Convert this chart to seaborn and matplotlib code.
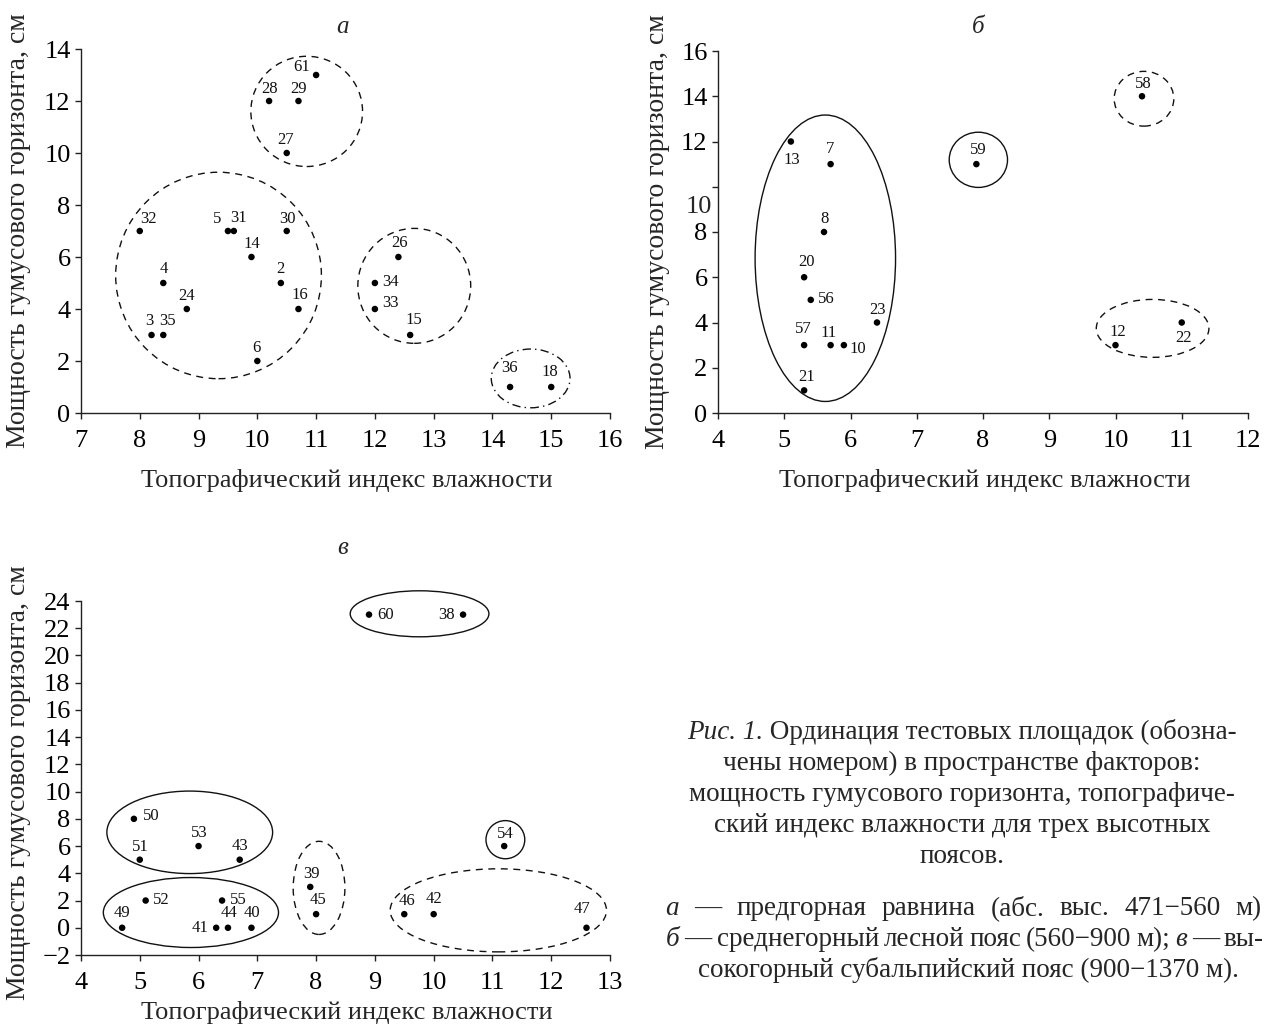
import matplotlib
matplotlib.use("Agg")
import matplotlib.pyplot as plt
import matplotlib.transforms as mtransforms
from matplotlib.patches import Ellipse
import seaborn as sns
import pandas as pd

# ---------------- data ----------------
# Panel a: предгорная равнина
a_ids = ["61", "28", "29", "27", "32", "5", "31", "30", "14", "4", "2", "24", "16",
         "3", "35", "6", "26", "34", "33", "15", "36", "18"]
a_twi = [11.0, 10.2, 10.7, 10.5, 8.0, 9.5, 9.6, 10.5, 9.9, 8.4, 10.4, 8.8, 10.7,
         8.2, 8.4, 10.0, 12.4, 12.0, 12.0, 12.6, 14.3, 15.0]
a_hum = [13, 12, 12, 10, 7, 7, 7, 7, 6, 5, 5, 4, 4, 3, 3, 2, 6, 5, 4, 3, 1, 1]

# Panel b: среднегорный лесной пояс
b_ids = ["13", "7", "8", "20", "56", "23", "57", "11", "10", "21", "59", "58", "12", "22"]
b_twi = [5.1, 5.7, 5.6, 5.3, 5.4, 6.4, 5.3, 5.7, 5.9, 5.3, 7.9, 10.4, 10.0, 11.0]
b_hum = [12, 11, 8, 6, 5, 4, 3, 3, 3, 1, 11, 14, 3, 4]

# Panel c: высокогорный субальпийский пояс
c_ids = ["60", "38", "50", "53", "51", "43", "52", "55", "49", "41", "44", "40",
         "39", "45", "54", "46", "42", "47"]
c_twi = [8.9, 10.5, 4.9, 6.0, 5.0, 6.7, 5.1, 6.4, 4.7, 6.3, 6.5, 6.9,
         7.9, 8.0, 11.2, 9.5, 10.0, 12.6]
c_hum = [23, 23, 8, 6, 5, 5, 2, 2, 0, 0, 0, 0, 3, 1, 6, 1, 1, 0]

# cluster outlines: (center x, center y, half-width, half-height, style)
a_groups = [(10.84, 11.6, 0.95, 2.12, "dashed"), (9.34, 5.29, 1.75, 3.97, "dashed"),
            (12.67, 4.89, 0.96, 2.21, "dashed"), (14.65, 1.33, 0.67, 1.13, "dashdot")]
b_groups = [(5.62, 6.84, 1.06, 6.33, "solid"), (7.93, 11.19, 0.44, 1.22, "solid"),
            (10.43, 13.89, 0.45, 1.21, "dashed"), (10.56, 3.74, 0.85, 1.28, "dashed")]
c_groups = [(9.76, 23.06, 1.18, 1.69, "solid"), (5.85, 7.01, 1.41, 3.03, "solid"),
            (5.87, 1.12, 1.49, 2.57, "solid"), (8.05, 2.93, 0.44, 3.42, "dashed"),
            (11.22, 6.47, 0.33, 1.40, "solid"), (11.1, 1.28, 1.84, 3.05, "dashed")]

x_label = "Топографический индекс влажности"
y_label = "Мощность гумусового горизонта, см"

# label offsets in pixels (dx, dy) of label centre from point
a_off = {"61": (-14, 8), "28": (0, 12), "29": (0, 12), "27": (-1, 13), "32": (9, 12),
         "5": (-11, 12), "31": (5, 13), "30": (1, 12), "14": (0, 13), "4": (1, 14),
         "2": (0, 14), "24": (0, 13), "16": (1, 14), "3": (-2, 14), "35": (4, 14),
         "6": (-1, 13), "26": (1, 14), "34": (16, 1), "33": (16, 6), "15": (4, 15),
         "36": (-1, 19), "18": (-1, 15)}
b_off = {"13": (1, -19), "7": (-1, 15), "8": (1, 13), "20": (2, 15), "56": (16, 1),
         "23": (0, 12), "57": (-1, 16), "11": (-2, 12), "10": (14, -4), "21": (2, 13),
         "59": (2, 14), "58": (1, 12), "12": (2, 13), "22": (2, -16)}
c_off = {"60": (17, 0), "38": (-17, 0), "50": (17, 3), "53": (1, 13), "51": (1, 13),
         "43": (0, 14), "52": (16, 1), "55": (16, 1), "49": (0, 15), "41": (-16, 0),
         "44": (1, 15), "40": (0, 15), "39": (1, 13), "45": (2, 14), "54": (1, 12),
         "46": (3, 13), "42": (0, 15), "47": (-4, 19)}

# ---------------- style ----------------
sns.set_theme(style="ticks")
SERIF = ["Liberation Serif", "DejaVu Serif"]
plt.rcParams["font.family"] = SERIF
plt.rcParams["axes.linewidth"] = 1.0
plt.rcParams["xtick.major.width"] = 1.0
plt.rcParams["ytick.major.width"] = 1.0
plt.rcParams["xtick.major.size"] = 4.5
plt.rcParams["ytick.major.size"] = 4.5

W, H = 1267, 1029
fig = plt.figure(figsize=(W / 100, H / 100), dpi=100)

TICK_FS = 19
XLAB_FS = 19
YLAB_FS = 20
PT_FS = 12


def add_axes_px(l, t, r, b):
    return fig.add_axes([l / W, 1 - b / H, (r - l) / W, (b - t) / H])


def line_style(s):
    if s == "dashed":
        return (0, (5, 4))
    if s == "dashdot":
        return (0, (6, 3, 1, 3))
    return "-"


def draw_panel(ax, ids, xs, ys, offs, groups, xlim, ylim, yticks):
    df = pd.DataFrame({"x": xs, "y": ys, "id": ids})
    sns.scatterplot(data=df, x="x", y="y", ax=ax, color="black", s=22,
                    edgecolor="none", legend=False, zorder=3)
    for _, r in df.iterrows():
        dx, dy = offs[r["id"]]
        ax.annotate(r["id"], (r["x"], r["y"]), xytext=(dx, dy),
                    textcoords="offset pixels", ha="center", va="center",
                    fontsize=PT_FS, color="#111111")
    for cx, cy, rx, ry, st in groups:
        e = Ellipse((cx, cy), 2 * rx, 2 * ry, fill=False, edgecolor="#111111",
                    linewidth=1.0, linestyle=line_style(st), clip_on=False)
        ax.add_patch(e)
    ax.set_xlim(*xlim)
    ax.set_ylim(*ylim)
    ax.set_xticks(range(xlim[0], xlim[1] + 1))
    ax.set_yticks(yticks)
    ax.tick_params(labelsize=TICK_FS, direction="out", colors="#222222",
                   labelcolor="black")
    ax.tick_params(axis="x", pad=8)
    ax.tick_params(axis="y", pad=3)
    ax.set_xlabel("")
    ax.set_ylabel("")
    sns.despine(ax=ax)
    for sp in ("left", "bottom"):
        ax.spines[sp].set_color("#222222")


# Panel a
ax_a = add_axes_px(81, 49, 610, 413)
draw_panel(ax_a, a_ids, a_twi, a_hum, a_off, a_groups, (7, 16), (0, 14), range(0, 15, 2))

# Panel b
ax_b = add_axes_px(718, 51, 1248, 413)
draw_panel(ax_b, b_ids, b_twi, b_hum, b_off, b_groups, (4, 12), (0, 16), range(0, 17, 2))
# the "10" label in the original sits below its tick
ax_b.set_yticklabels([("" if v == 10 else str(v)) for v in range(0, 17, 2)])
ax_b.text(-0.012, 9.1, "10",
          transform=mtransforms.blended_transform_factory(ax_b.transAxes, ax_b.transData),
          ha="right", va="center", fontsize=TICK_FS)

# Panel c
ax_c = add_axes_px(81, 601, 610, 955)
draw_panel(ax_c, c_ids, c_twi, c_hum, c_off, c_groups, (4, 13), (-2, 24), range(-2, 25, 2))
ax_c.set_yticklabels([("\u22122" if v == -2 else str(v)) for v in range(-2, 25, 2)])


def ftext(x, y, s, **kw):
    return fig.text(x / W, 1 - y / H, s, **kw)


# panel letters
ftext(343, 27, "а", fontsize=18, style="italic", ha="center", va="center")
ftext(978, 27, "б", fontsize=18, style="italic", ha="center", va="center")
ftext(343, 548, "в", fontsize=18, style="italic", ha="center", va="center")

# axis titles
for (x, y) in [(347, 480), (985, 480), (347, 1013)]:
    ftext(x, y, x_label, fontsize=XLAB_FS, ha="center", va="center")
for (x, y) in [(19, 231), (657, 232), (19, 783)]:
    ftext(x, y, y_label, fontsize=YLAB_FS, ha="center", va="center", rotation=90)

# ---------------- caption ----------------
CAP_FS = 19.5
BASE = 7  # baseline sits this many pixels below the nominal line centre
renderer = fig.canvas.get_renderer()


def width_px(s, italic=False):
    t = fig.text(0, 0, s, fontsize=CAP_FS, style="italic" if italic else "normal")
    w = t.get_window_extent(renderer=renderer).width
    t.remove()
    return w


def put(x, y, s, it):
    ftext(x, y + BASE, s, fontsize=CAP_FS, style="italic" if it else "normal",
          ha="left", va="baseline")


def centered_line(parts, xc, y):
    widths = [width_px(s, it) for s, it in parts]
    x = xc - sum(widths) / 2
    for (s, it), w in zip(parts, widths):
        put(x, y, s, it)
        x += w


def justified_line(words, x0, x1, y):
    widths = [width_px(s, it) for s, it in words]
    gap = (x1 - x0 - sum(widths)) / (len(words) - 1)
    x = x0
    for (s, it), w in zip(words, widths):
        put(x, y, s, it)
        x += w + gap


XC = 962
Y0 = 732
LS = 31
centered_line([("Рис. 1.", True), (" Ординация тестовых площадок (обозна-", False)], XC, Y0)
centered_line([("чены номером) в пространстве факторов:", False)], XC, Y0 + LS)
centered_line([("мощность гумусового горизонта, топографиче-", False)], XC, Y0 + 2 * LS)
centered_line([("ский индекс влажности для трех высотных", False)], XC, Y0 + 3 * LS)
centered_line([("поясов.", False)], XC, Y0 + 4 * LS)

Y1 = Y0 + 4 * LS + 52
justified_line([("а", True), ("—", False), ("предгорная", False), ("равнина", False),
                ("(абс.", False), ("выс.", False), ("471−560", False), ("м)", False)],
               665, 1262, Y1)
justified_line([("б", True), ("—", False), ("среднегорный", False), ("лесной", False),
                ("пояс", False), ("(560−900", False), ("м);", False), ("в", True),
                ("—", False), ("вы-", False)], 666, 1264, Y1 + LS)
centered_line([("сокогорный субальпийский пояс (900−1370 м).", False)], 968, Y1 + 2 * LS)

fig.savefig("out.png", dpi=100)
